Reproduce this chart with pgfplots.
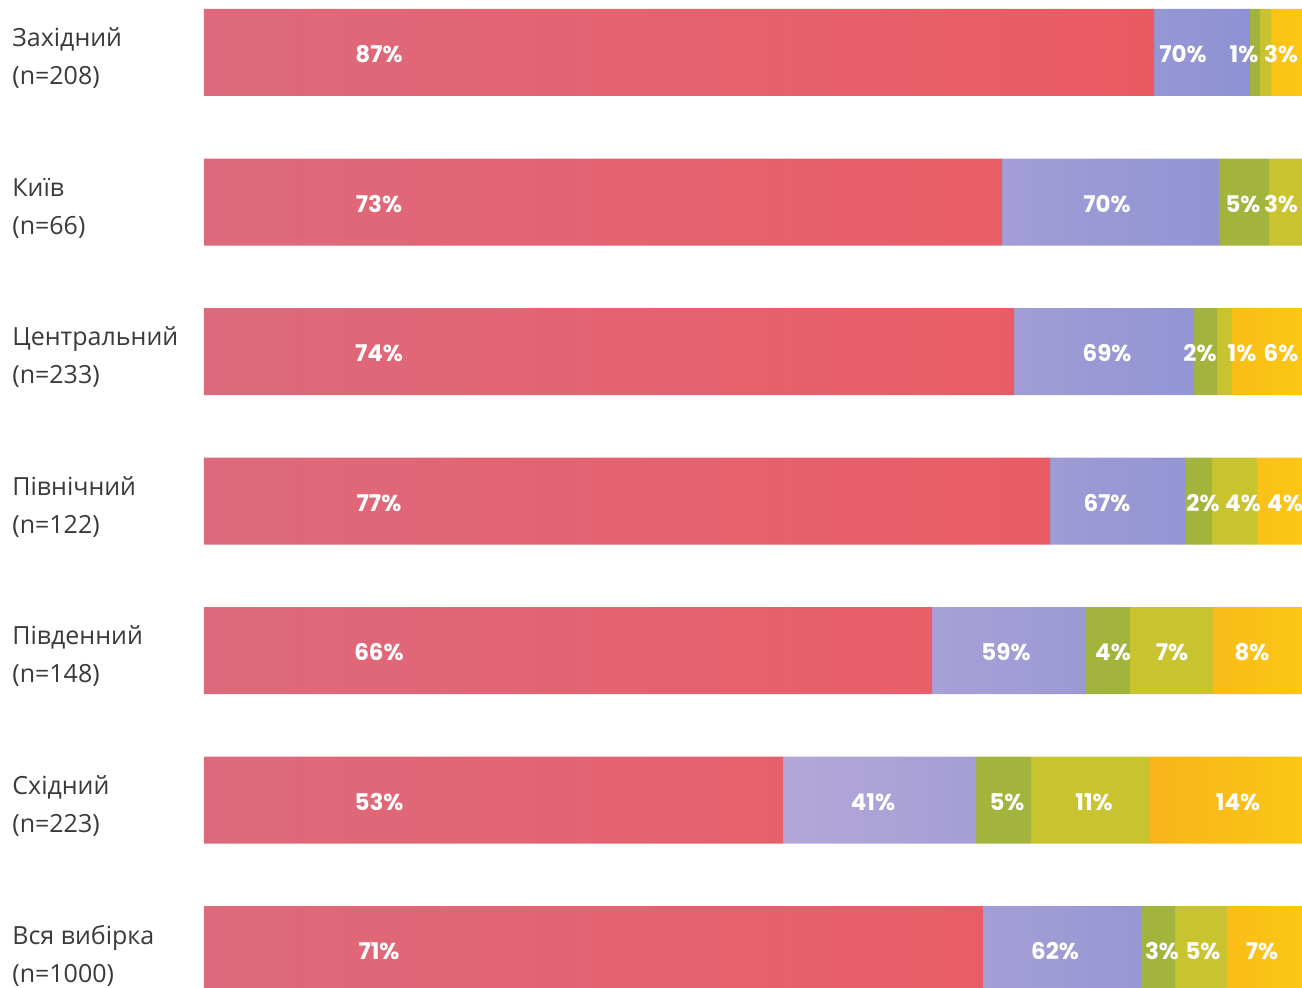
\documentclass[border=0pt]{standalone}
\usepackage{pgfplots}
\pgfplotsset{compat=1.18}
\usepackage{pgfplotstable}
\usepackage{fontspec}
\setmainfont{Open Sans}
\newfontfamily\pctfont{Poppins}

\definecolor{redA}{HTML}{DD6A7C}
\definecolor{redB}{HTML}{E84F5A}
\definecolor{redC}{HTML}{EB5A63}
\definecolor{bluA}{HTML}{B4A7D8}
\definecolor{bluB}{HTML}{8E92D3}
\definecolor{grn}{HTML}{A3B43C}
\definecolor{ygr}{HTML}{C9C330}
\definecolor{orgA}{HTML}{F8B41C}
\definecolor{orgB}{HTML}{FBC614}
\definecolor{lbl}{HTML}{3A3A3A}

% segment widths in px of the 1098 px bar
\pgfplotstableread{
y red blue green yg orange
0 950 96 10 11 31
1 798 217 50 33 0
2 810 180 23 15 70
3 846 135 27 45 45
4 728 154 44 83 89
5 579 193 55 118 153
6 779 159 33 52 75
}\widths

% printed percentages and where they sit
\pgfplotstableread{
y x lab
0 175 87
0 979 70
0 1040 1
0 1077 3
1 175 73
1 903 70
1 1039 5
1 1077 3
2 175 74
2 903 69
2 996 2
2 1038 1
2 1077 6
3 175 77
3 903 67
3 999 2
3 1039 4
3 1081 4
4 175 66
4 802 59
4 909 4
4 968 7
4 1048 8
5 175 53
5 669 41
5 803 5
5 890 11
5 1034 14
6 175 71
6 851 62
6 958 3
6 999 5
6 1058 7
}\labels

\pgfplotsset{base/.style={
  scale only axis, width=549pt, height=493.5pt,
  at={(102pt,0pt)}, anchor=south west,
  xmin=0, xmax=1098, ymin=-0.3512, ymax=6.2508, y dir=reverse,
  axis line style={draw=none}, tick style={draw=none},
  major tick length=0pt, xtick=\empty}}

\begin{document}
\begin{tikzpicture}
\begin{axis}[base, xbar stacked, bar width=43.5pt,
  ytick={0,...,6},
  yticklabels={{Західний\\(n=208)},{Київ\\(n=66)},{Центральний\\(n=233)},
    {Північний\\(n=122)},{Південний\\(n=148)},{Східний\\(n=223)},
    {Вся вибірка\\(n=1000)}},
  yticklabel style={anchor=west, align=left, inner sep=0pt, xshift=-96pt,
    yshift=-3pt, text=lbl, font=\fontsize{12.5}{19}\selectfont}]
\addplot[draw=none, left color=redA, middle color=redB, right color=redC] table[x=red, y=y] {\widths};
\addplot[draw=none, left color=bluA, right color=bluB] table[x=blue, y=y] {\widths};
\addplot[draw=none, fill=grn] table[x=green, y=y] {\widths};
\addplot[draw=none, fill=ygr] table[x=yg, y=y] {\widths};
\addplot[draw=none, left color=orgA, right color=orgB] table[x=orange, y=y] {\widths};
\end{axis}
\begin{axis}[base, ytick=\empty]
\addplot[draw=none, mark=none,
  nodes near coords={\pgfmathprintnumber[assume math mode=true]{\pgfplotspointmeta}\%},
  point meta=explicit,
  every node near coord/.append style={anchor=center, text=white, yshift=-1pt,
    font=\pctfont\bfseries\fontsize{11.5}{13}\selectfont}]
  table[x=x, y=y, meta=lab] {\labels};
\end{axis}
\pgfresetboundingbox
\useasboundingbox (0,0) rectangle (651pt,493.5pt);
\end{tikzpicture}
\end{document}
